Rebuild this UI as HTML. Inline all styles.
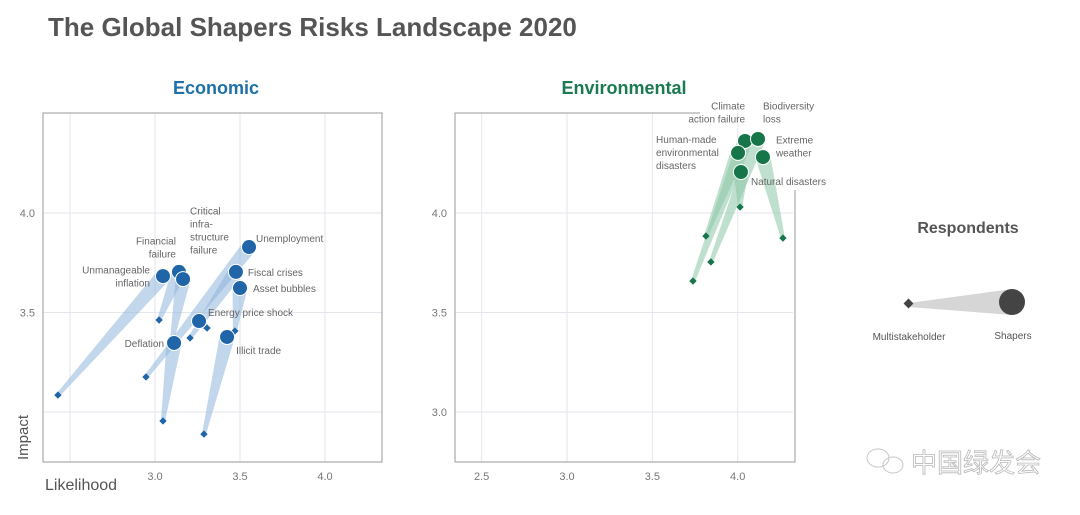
<!DOCTYPE html>
<html><head><meta charset="utf-8">
<style>
html,body{margin:0;padding:0;background:#fff;}
body{width:1080px;height:510px;overflow:hidden;font-family:"Liberation Sans","Noto Sans CJK SC",sans-serif;}
svg text{font-family:"Liberation Sans","Noto Sans CJK SC",sans-serif;}
</style></head>
<body>
<svg id="chart" width="1080" height="510" viewBox="0 0 1080 510" xmlns="http://www.w3.org/2000/svg">
  <text x="48" y="36" font-size="26" font-weight="bold" fill="#555">The Global Shapers Risks Landscape 2020</text>
  <text x="216" y="94" font-size="18" font-weight="bold" fill="#1f6fa8" text-anchor="middle">Economic</text>
  <text x="624" y="94" font-size="18" font-weight="bold" fill="#1a7a50" text-anchor="middle">Environmental</text>
  <g id="econ"></g>
  <g id="env"></g>
  <text transform="translate(28,460) rotate(-90)" font-size="15" fill="#555">Impact</text>
  <text x="45" y="490" font-size="16" fill="#555">Likelihood</text>
  <g>
    <text x="968" y="233" font-size="16" fill="#555" text-anchor="middle" font-weight="bold">Respondents</text>
    <polygon points="909,303 1012,289 1012,315 909,307" fill="#d6d6d6"/>
    <circle cx="1012" cy="302" r="13" fill="#444"/>
    <rect x="905" y="300" width="7" height="7" fill="#444" transform="rotate(45 908.5 303.5)"/>
    <text x="909" y="340" font-size="10" fill="#555" text-anchor="middle">Multistakeholder</text>
    <text x="1013" y="339" font-size="10" fill="#555" text-anchor="middle">Shapers</text>
  </g>
  <g fill="none" stroke="#c8c8c8">
    <ellipse cx="878" cy="458" rx="11" ry="9"/><ellipse cx="893" cy="465" rx="10" ry="8"/>
    <text x="911" y="472" font-size="26" fill="#fff" stroke="#b8b8b8" stroke-width="0.8">中国绿发会</text>
  </g>
</svg>
<script>
// Economic data
const econNames = ["Unmanageable inflation","Financial failure","Critical infrastructure failure","Deflation","Unemployment","Fiscal crises","Asset bubbles","Energy price shock","Illicit trade"];
const econShapersX = [3.047,3.141,3.165,3.112,3.553,3.476,3.500,3.259,3.424];
const econShapersY = [3.683,3.704,3.668,3.347,3.829,3.704,3.623,3.457,3.377];
const econMultiX = [2.429,3.024,3.100,3.047,2.947,3.206,3.470,3.306,3.288];
const econMultiY = [3.085,3.462,3.360,2.955,3.176,3.372,3.407,3.422,2.889];
// Environmental data
const envNames = ["Climate action failure","Biodiversity loss","Human-made environmental disasters","Extreme weather","Natural disasters"];
const envShapersX = [4.043,4.119,4.002,4.148,4.019];
const envShapersY = [4.362,4.372,4.302,4.281,4.206];
const envMultiX = [3.738,3.843,3.814,4.265,4.014];
const envMultiY = [3.658,3.754,3.884,3.874,4.030];
const xTicks = ["2.5","3.0","3.5","4.0"];
const yTicks = ["3.0","3.5","4.0"];
const econXTickLabels = ["3.0","3.5","4.0"];
const econYTickLabels = ["3.5","4.0"];

// label layout (styling, not data)
const econLabelLines = [["Unmanageable","inflation"],["Financial","failure"],["Critical","infra-","structure","failure"],["Deflation"],["Unemployment"],["Fiscal crises"],["Asset bubbles"],["Energy price shock"],["Illicit trade"]];
const econLabelOff = [[-13,0,"end"],[-3,-25,"end"],[7,-49,"start"],[-10,0,"end"],[7,-9,"start"],[12,0,"start"],[13,0,"start"],[9,-9,"start"],[9,13,"start"]];
const envLabelLines = [["Climate","action failure"],["Biodiversity","loss"],["Human-made","environmental","disasters"],["Extreme","weather"],["Natural disasters"]];
const envLabelOff = [[0,-29,"end"],[5,-27,"start"],[-82,-1,"start"],[13,-11,"start"],[10,9,"start"]];

const NS="http://www.w3.org/2000/svg";
function mk(tag,attrs,parent){const e=document.createElementNS(NS,tag);for(const k in attrs)e.setAttribute(k,attrs[k]);parent.appendChild(e);return e;}

function panel(g,cfg){
  const xs=v=>cfg.x3+(v-3)*cfg.kx;
  const ys=v=>213-(v-4)*199;
  xTicks.forEach(t=>{const x=xs(+t);
    const l=mk('line',{x1:x,x2:x,y1:cfg.top,y2:462,stroke:'#e6e6ee','stroke-width':1},g);
    
    
  });
  cfg.xl.forEach(t=>{const x=xs(+t);
    const tx=mk('text',{x:x,y:480,'font-size':11,fill:'#777','text-anchor':'middle'},g);tx.textContent=t;
    
    
  });
  yTicks.forEach(t=>{const y=ys(+t);
    const l=mk('line',{x1:cfg.left,x2:cfg.right,y1:y,y2:y,stroke:'#e6e6ee','stroke-width':1},g);
    
    
  });
  cfg.yl.forEach(t=>{const y=ys(+t);
    const tx=mk('text',{x:cfg.left-8,y:y+4,'font-size':11,fill:'#777','text-anchor':'end'},g);tx.textContent=t;
    
    
  });
  const fr=mk('path',{d:cfg.frame,fill:'none',stroke:'#999','stroke-width':1},g);
  
  
  cfg.names.forEach((n,i)=>{
    const cx=xs(cfg.sx[i]),cy=ys(cfg.sy[i]),dx=xs(cfg.mx[i]),dy=ys(cfg.my[i]);
    const L=Math.hypot(cx-dx,cy-dy)||1,px=-(cy-dy)/L,py=(cx-dx)/L;
    const w1=7.5,w2=2;
    const p=mk('polygon',{points:`${cx+px*w1},${cy+py*w1} ${dx+px*w2},${dy+py*w2} ${dx-px*w2},${dy-py*w2} ${cx-px*w1},${cy-py*w1}`,fill:cfg.band,'fill-opacity':0.55},g);
    
    
  });
  cfg.names.forEach((n,i)=>{
    const dx=xs(cfg.mx[i]),dy=ys(cfg.my[i]);
    const r=mk('rect',{x:dx-2.6,y:dy-2.6,width:5.2,height:5.2,fill:cfg.dark,transform:`rotate(45 ${dx} ${dy})`},g);
    
    
  });
  cfg.names.forEach((n,i)=>{
    const cx=xs(cfg.sx[i]),cy=ys(cfg.sy[i]);
    const c=mk('circle',{cx:cx,cy:cy,r:7.5,fill:cfg.dark,stroke:'#fff','stroke-width':1},g);
    
    
    const o=cfg.off[i],lines=cfg.lines[i];
    const t=mk('text',{x:cx+o[0],y:cy+o[1]+4-(lines.length-1)*6.5,'font-size':10,fill:'#666','text-anchor':o[2]},g);
    
    
    lines.forEach((ln,k)=>{const s=mk('tspan',{x:cx+o[0],dy:k?13:0},t);s.textContent=ln;});
  });
}
panel(document.getElementById('econ'),{x3:155,kx:170,left:43,right:382,top:113,xl:econXTickLabels,yl:econYTickLabels,
  frame:"M43,113 H382 V462 H43 Z",names:econNames,sx:econShapersX,sy:econShapersY,mx:econMultiX,my:econMultiY,
  band:'#8fb5dc',dark:'#1f65a8',lines:econLabelLines,off:econLabelOff});
panel(document.getElementById('env'),{x3:567,kx:170.7,left:455,right:793,top:113,xl:xTicks,yl:yTicks,
  frame:"M700,113 H455 V462 H795 V190",names:envNames,sx:envShapersX,sy:envShapersY,mx:envMultiX,my:envMultiY,
  band:'#8cc7a8',dark:'#17754a',lines:envLabelLines,off:envLabelOff});
</script>
</body></html>
